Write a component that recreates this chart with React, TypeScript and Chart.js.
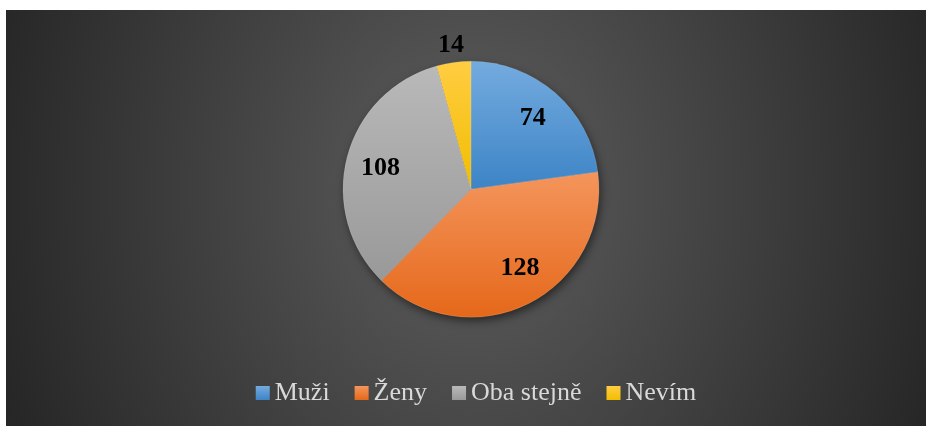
import { useEffect, useRef } from "react";
import { Chart, registerables } from "chart.js";

Chart.register(...registerables);

const categories = ["Muži", "Ženy", "Oba stejně", "Nevím"];
const values = [74, 128, 108, 14];
const colorsTop = ["#74abdf", "#f4955c", "#b9b9b9", "#ffcd42"];
const colorsBottom = ["#3d84c6", "#e5681a", "#999999", "#f2bd00"];
const labelRadius = [0.75, 0.71, 0.73, 1.15];
const labelAngleShift = [-1, -6, 0, 0];

const FONT = '"Times New Roman", "Liberation Serif", serif';

function sliceAngles(i: number) {
  const total = values.reduce((a, b) => a + b, 0);
  let acc = 0;
  for (let k = 0; k < i; k++) acc += values[k];
  const a0 = -Math.PI / 2 + (acc / total) * Math.PI * 2;
  const a1 = a0 + (values[i] / total) * Math.PI * 2;
  return [a0, a1];
}

function sliceFill(chart: any, i: number) {
  const area = chart.chartArea;
  if (!area) return colorsBottom[i];
  const cx = (area.left + area.right) / 2;
  const cy = (area.top + area.bottom) / 2;
  const r = Math.min(area.right - area.left, area.bottom - area.top) / 2;
  const [a0, a1] = sliceAngles(i);
  const ys = [cy, cy + r * Math.sin(a0), cy + r * Math.sin(a1)];
  for (const t of [-Math.PI / 2, Math.PI / 2, (3 * Math.PI) / 2]) {
    if (t >= a0 - 1e-6 && t <= a1 + 1e-6) ys.push(cy + r * Math.sin(t));
  }
  const y0 = Math.min(...ys);
  const y1 = Math.max(...ys);
  const g = chart.ctx.createLinearGradient(0, y0, 0, y1);
  g.addColorStop(0, colorsTop[i]);
  g.addColorStop(1, colorsBottom[i]);
  return g;
}

const backgroundPlugin = {
  id: "bgGradient",
  beforeDraw(chart: any) {
    const { ctx, width, height } = chart;
    const cx = width / 2 + 5;
    const cy = 180;
    const rx = 500;
    const ry = 600;
    ctx.save();
    ctx.fillStyle = "#262626";
    ctx.fillRect(0, 0, width, height);
    ctx.translate(cx, cy);
    ctx.scale(1, ry / rx);
    const g = ctx.createRadialGradient(0, 0, 0, 0, 0, rx);
    g.addColorStop(0, "#5e5e5e");
    g.addColorStop(1, "#262626");
    ctx.fillStyle = g;
    ctx.fillRect(-width * 2, -height * 2, width * 4, height * 4);
    ctx.restore();
  },
};

const shadowPlugin = {
  id: "pieShadow",
  beforeDatasetsDraw(chart: any) {
    const arc = chart.getDatasetMeta(0).data[0];
    if (!arc) return;
    const { ctx } = chart;
    ctx.save();
    ctx.shadowColor = "rgba(0,0,0,0.55)";
    ctx.shadowBlur = 10;
    ctx.shadowOffsetX = 2;
    ctx.shadowOffsetY = 4;
    ctx.fillStyle = "#444444";
    ctx.beginPath();
    ctx.arc(arc.x, arc.y, arc.outerRadius - 0.5, 0, Math.PI * 2);
    ctx.fill();
    ctx.restore();
  },
};

const labelPlugin = {
  id: "sliceLabels",
  afterDatasetsDraw(chart: any) {
    const { ctx } = chart;
    const meta = chart.getDatasetMeta(0);
    const size = 26;
    ctx.save();
    ctx.font = `bold ${size}px ${FONT}`;
    ctx.fillStyle = "#000000";
    ctx.textAlign = "center";
    ctx.textBaseline = "alphabetic";
    meta.data.forEach((arc: any, i: number) => {
      const mid = (arc.startAngle + arc.endAngle) / 2 + (labelAngleShift[i] * Math.PI) / 180;
      const rr = arc.outerRadius * labelRadius[i];
      const x = arc.x + Math.cos(mid) * rr;
      const y = arc.y + Math.sin(mid) * rr + size * 0.34;
      ctx.fillText(String(values[i]), x, y);
    });
    ctx.restore();
  },
};

const legendPlugin = {
  id: "bottomLegend",
  afterDraw(chart: any) {
    const { ctx } = chart;
    const area = chart.chartArea;
    const size = 26;
    const box = 14;
    const boxGap = 5;
    const itemGap = 25;
    ctx.save();
    ctx.font = `${size}px ${FONT}`;
    const widths = categories.map((c) => ctx.measureText(c).width);
    const total =
      widths.reduce((a, w) => a + box + boxGap + w, 0) + itemGap * (categories.length - 1);
    const centerX = (area.left + area.right) / 2 + 5;
    const baseline = chart.height - 26;
    let x = centerX - total / 2;
    categories.forEach((c, i) => {
      const g = ctx.createLinearGradient(0, baseline - box, 0, baseline);
      g.addColorStop(0, colorsTop[i]);
      g.addColorStop(1, colorsBottom[i]);
      ctx.fillStyle = g;
      ctx.fillRect(x, baseline - box, box, box);
      x += box + boxGap;
      ctx.fillStyle = "#d9d9d9";
      ctx.textAlign = "left";
      ctx.textBaseline = "alphabetic";
      ctx.fillText(c, x, baseline);
      x += widths[i] + itemGap;
    });
    ctx.restore();
  },
};

export default function App() {
  const ref = useRef<HTMLCanvasElement | null>(null);
  useEffect(() => {
    if (!ref.current) return;
    const chart = new Chart(ref.current, {
      type: "pie",
      data: {
        labels: categories,
        datasets: [
          {
            data: values,
            backgroundColor: (c: any) => sliceFill(c.chart, c.dataIndex),
            borderColor: "rgba(255,255,255,0.25)",
            borderWidth: 0.5,
          },
        ],
      },
      options: {
        responsive: false,
        animation: false,
        events: [],
        layout: { padding: { top: 51, bottom: 108.5, left: 10, right: 0 } },
        plugins: {
          legend: { display: false },
          tooltip: { enabled: false },
        },
      },
      plugins: [backgroundPlugin, shadowPlugin, labelPlugin, legendPlugin],
    });
    return () => chart.destroy();
  }, []);
  return (
    <div style={{ position: "absolute", left: 6, top: 10, width: 920, height: 416 }}>
      <canvas ref={ref} width={920} height={416} style={{ display: "block" }} />
    </div>
  );
}
